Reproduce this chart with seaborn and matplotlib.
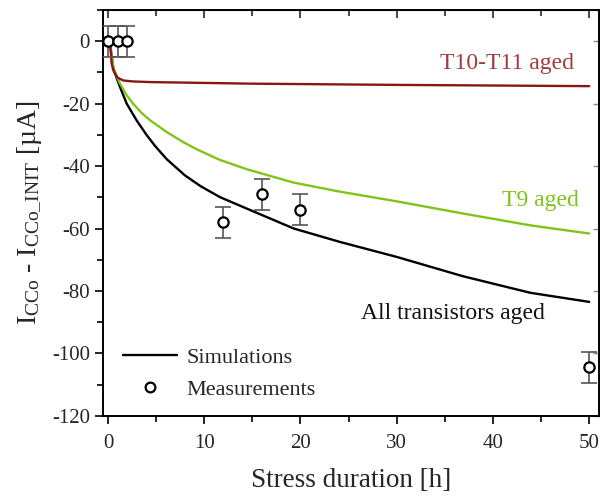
import matplotlib
matplotlib.use("Agg")
import matplotlib.pyplot as plt
from matplotlib.lines import Line2D
from matplotlib.ticker import MultipleLocator
import seaborn as sns
import pandas as pd

# simulated curves
t_all = [0.2, 0.38, 0.55, 0.9, 1.25, 1.94, 2.98, 4.0, 4.9, 6.1, 8.0, 9.6, 11.6,
         14.4, 19.3, 24.1, 30, 36.9, 43.9, 50]
i_all = [0, -5, -8.5, -11.8, -14.7, -20, -25.4, -30.0, -33.6, -37.8, -43.0, -46.4, -49.9,
         -53.6, -60.0, -64.3, -69.1, -75.3, -80.6, -83.5]

t_t9 = [0.2, 0.38, 0.55, 0.9, 1.25, 1.94, 2.6, 3.5, 4.4, 6.1, 7.8, 9.2, 11.6, 14.4,
        19.3, 24.1, 30, 36.9, 43.9, 50]
i_t9 = [0, -5, -8.3, -11.2, -13.6, -17.3, -20, -23.0, -25.4, -29.1, -32.3, -34.6, -38.0, -41.0,
        -45.3, -48.2, -51.3, -55.2, -59, -61.6]

t_t10 = [0.2, 0.3, 0.38, 0.55, 0.73, 1.0, 1.6, 2.6, 4.4, 14.8, 30, 50]
i_t10 = [0, -4.0, -7.2, -9.3, -10.4, -11.7, -12.6, -12.9, -13.1, -13.6, -14.0, -14.4]

# measurements
t_meas = [0, 1, 2, 12, 16, 20, 50]
i_meas = [0, 0, 0, -58, -49, -54, -104.5]
err_meas = [5, 5, 5, 5, 5, 5, 5]

sns.set_style("ticks")
plt.rcParams["font.family"] = ["Liberation Serif", "DejaVu Serif"]
plt.rcParams["mathtext.fontset"] = "custom"
plt.rcParams["mathtext.rm"] = "Liberation Serif"
plt.rcParams["mathtext.it"] = "Liberation Serif:italic"
plt.rcParams["axes.unicode_minus"] = False

fig = plt.figure(figsize=(6, 4.98), dpi=100)
ax = fig.add_axes([0.172, 0.165, 0.826, 0.815])

black = "#000000"
green = "#80c41a"
red = "#8b1414"

sns.lineplot(x=t_all, y=i_all, ax=ax, color=black, lw=1.7, sort=False)
sns.lineplot(x=t_t9, y=i_t9, ax=ax, color=green, lw=1.7, sort=False)
sns.lineplot(x=t_t10, y=i_t10, ax=ax, color=red, lw=1.7, sort=False)

ax.errorbar(t_meas, i_meas, yerr=err_meas, fmt="none", ecolor="#555555",
            elinewidth=1.2, capsize=5.5, capthick=1.2, zorder=3)
df = pd.DataFrame({"t": t_meas, "i": i_meas})
sns.scatterplot(data=df, x="t", y="i", ax=ax, marker="o", s=55,
                facecolor="white", edgecolor="black", linewidth=1.6, zorder=4)

ax.text(41.5, -7.3, "T10-T11 aged", color="#a3393b", fontsize=17, ha="center", va="center")
ax.text(44.9, -51, "T9 aged", color=green, fontsize=17, ha="center", va="center")
ax.text(35.8, -87.1, "All transistors aged", color="#111111", fontsize=17, ha="center", va="center")

ax.set_xlim(-0.5, 51)
ax.set_ylim(-120, 10)
ax.xaxis.set_major_locator(MultipleLocator(10))
ax.xaxis.set_minor_locator(MultipleLocator(5))
ax.yaxis.set_major_locator(MultipleLocator(20))
ax.yaxis.set_minor_locator(MultipleLocator(10))
ax.tick_params(which="both", direction="out", width=1.2, labelsize=15, color="black")
ax.tick_params(which="major", length=6)
ax.tick_params(which="minor", length=4)
ax.tick_params(axis="x", pad=7)
for s in ax.spines.values():
    s.set_linewidth(1.4)
    s.set_color("black")

# mirrored ticks pointing inward on top and right
top = ax.secondary_xaxis("top")
top.xaxis.set_major_locator(MultipleLocator(10))
top.xaxis.set_minor_locator(MultipleLocator(5))
top.tick_params(which="both", direction="in", labeltop=False, width=1.2)
top.tick_params(which="major", length=6)
top.tick_params(which="minor", length=4)
right = ax.secondary_yaxis("right")
right.yaxis.set_major_locator(MultipleLocator(20))
right.yaxis.set_minor_locator(MultipleLocator(10))
right.tick_params(which="both", direction="in", labelright=False, width=1.0, color="#888888")
right.tick_params(which="major", length=4)
right.tick_params(which="minor", length=0)

ax.set_xlabel("Stress duration [h]", fontsize=19.5, labelpad=11)
ax.set_ylabel(r"I$_{\mathrm{CCo}}$ - I$_{\mathrm{CCo\_INIT}}$ [µA]", fontsize=20, labelpad=6)

handles = [
    Line2D([], [], color="black", lw=1.7),
    Line2D([], [], color="black", marker="o", ls="none", markerfacecolor="white",
           markeredgewidth=1.6, markersize=7),
]
ax.legend(handles, ["Simulations", "Measurements"], loc="lower left",
          bbox_to_anchor=(0.0, -0.01), frameon=False, fontsize=16,
          handlelength=2.4, handletextpad=0.45, labelspacing=0.5)

fig.savefig("out.png", dpi=100)
